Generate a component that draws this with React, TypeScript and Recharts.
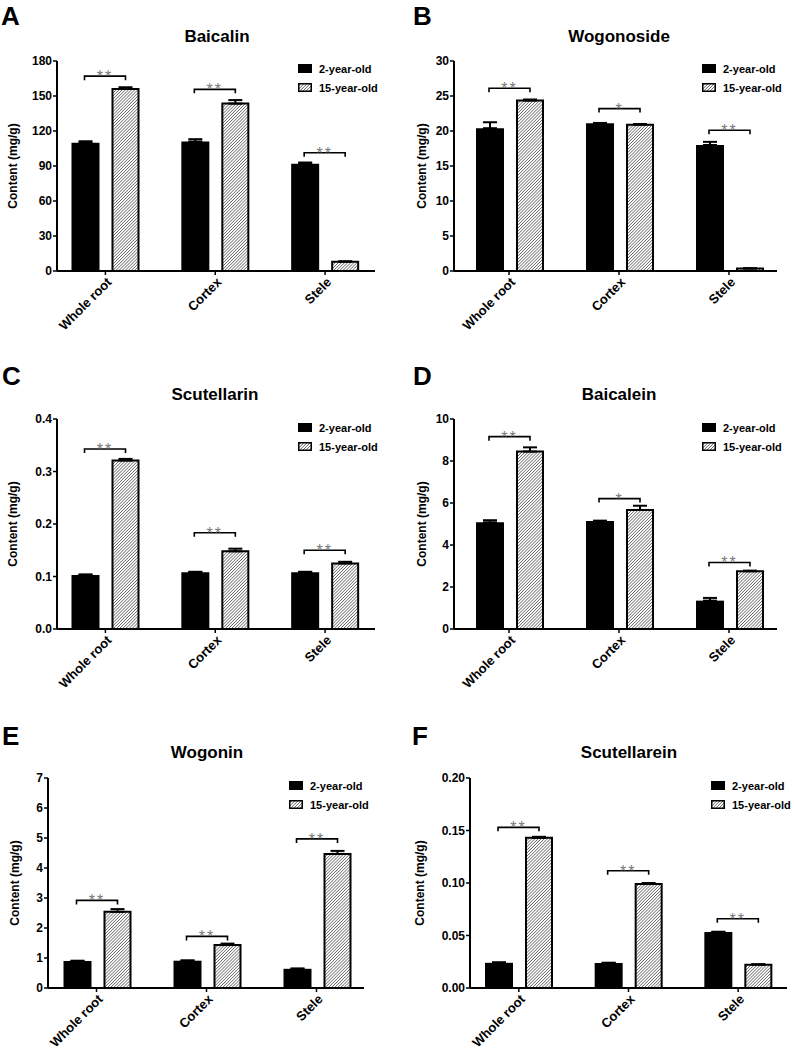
import React from 'react';
import { BarChart, Bar, XAxis, YAxis, ErrorBar, LabelList, Legend } from 'recharts';

// --- shared labels ---
const CATEGORIES = ['Whole root', 'Cortex', 'Stele'];
const SERIES_NAMES = ['2-year-old', '15-year-old'];

// --- A: Baicalin ---
const BAICALIN_2Y = [110, 111, 92];
const BAICALIN_2Y_SD = [1.2, 2, 1];
const BAICALIN_15Y = [156, 143.5, 8];
const BAICALIN_15Y_SD = [1.5, 3, 0.3];
const BAICALIN_BRACKET = [167, 155.7, 101.4];
const BAICALIN_SIG = ['**', '**', '**'];
const BAICALIN_TICKS = [0, 30, 60, 90, 120, 150, 180];

// --- B: Wogonoside ---
const WOGONOSIDE_2Y = [20.4, 21.1, 18];
const WOGONOSIDE_2Y_SD = [0.85, 0.05, 0.45];
const WOGONOSIDE_15Y = [24.35, 20.9, 0.35];
const WOGONOSIDE_15Y_SD = [0.15, 0.1, 0.05];
const WOGONOSIDE_BRACKET = [26.1, 23.2, 20.1];
const WOGONOSIDE_SIG = ['**', '*', '**'];
const WOGONOSIDE_TICKS = [0, 5, 10, 15, 20, 25, 30];

// --- C: Scutellarin ---
const SCUTELLARIN_2Y = [0.103, 0.108, 0.108];
const SCUTELLARIN_2Y_SD = [0.001, 0.001, 0.001];
const SCUTELLARIN_15Y = [0.321, 0.148, 0.125];
const SCUTELLARIN_15Y_SD = [0.003, 0.005, 0.003];
const SCUTELLARIN_BRACKET = [0.343, 0.1834, 0.15];
const SCUTELLARIN_SIG = ['**', '**', '**'];
const SCUTELLARIN_TICKS = [0, 0.1, 0.2, 0.3, 0.4];

// --- D: Baicalein ---
const BAICALEIN_2Y = [5.08, 5.14, 1.35];
const BAICALEIN_2Y_SD = [0.1, 0.02, 0.13];
const BAICALEIN_15Y = [8.45, 5.67, 2.75];
const BAICALEIN_15Y_SD = [0.2, 0.2, 0.03];
const BAICALEIN_BRACKET = [9.16, 6.21, 3.17];
const BAICALEIN_SIG = ['**', '*', '**'];
const BAICALEIN_TICKS = [0, 2, 4, 6, 8, 10];

// --- E: Wogonin ---
const WOGONIN_2Y = [0.9, 0.91, 0.64];
const WOGONIN_2Y_SD = [0.01, 0.01, 0.01];
const WOGONIN_15Y = [2.54, 1.43, 4.47];
const WOGONIN_15Y_SD = [0.09, 0.05, 0.1];
const WOGONIN_BRACKET = [2.92, 1.72, 4.97];
const WOGONIN_SIG = ['**', '**', '**'];
const WOGONIN_TICKS = [0, 1, 2, 3, 4, 5, 6, 7];

// --- F: Scutellarein ---
const SCUTELLAREIN_2Y = [0.024, 0.0238, 0.0533];
const SCUTELLAREIN_2Y_SD = [0.0005, 0.0003, 0.0003];
const SCUTELLAREIN_15Y = [0.143, 0.099, 0.0222];
const SCUTELLAREIN_15Y_SD = [0.001, 0.001, 0.0005];
const SCUTELLAREIN_BRACKET = [0.153, 0.1117, 0.066];
const SCUTELLAREIN_SIG = ['**', '**', '**'];
const SCUTELLAREIN_TICKS = [0, 0.05, 0.1, 0.15, 0.2];

// --- layout ---
const FONT = '"Liberation Sans", Arial, Helvetica, sans-serif';
const PANEL_W = 397;
const PANEL_H = 360;
const X_AXIS_H = 30;
const BAR_SIZE = 28;
const BAR_GAP = 13;

const CategoryTick = ({ x, y, payload }: any) => {
  const ax = x + 7;
  const ay = y + 6;
  return (
    <text
      x={ax}
      y={ay}
      transform={`rotate(-45, ${ax}, ${ay})`}
      textAnchor="end"
      fontSize={13}
      fontWeight="bold"
      fill="#000"
      fontFamily={FONT}
    >
      {payload.value}
    </text>
  );
};

const LegendBox = () => (
  <div style={{ fontFamily: FONT, fontSize: 11, fontWeight: 'bold', color: '#000', whiteSpace: 'nowrap' }}>
    {SERIES_NAMES.map((name, i) => (
      <div key={name} style={{ display: 'flex', alignItems: 'center', height: 19 }}>
        <svg width={14} height={9} style={{ marginRight: 7, flex: 'none' }}>
          {i === 0 ? (
            <rect width={14} height={9} fill="#000" />
          ) : (
            <rect x={0.75} y={0.75} width={12.5} height={7.5} fill="url(#hatch)" stroke="#000" strokeWidth={1.5} />
          )}
        </svg>
        <span>{name}</span>
      </div>
    ))}
  </div>
);

interface PanelProps {
  letter: string;
  title: string;
  young: number[];
  youngSd: number[];
  old: number[];
  oldSd: number[];
  bracket: number[];
  sig: string[];
  ticks: number[];
  decimals: number;
  left: number;
  top: number;
  axisX: number;
  plotTop: number;
  plotBottom: number;
  axisEnd: number;
  padL: number;
  padR: number;
  labelX: number;
  legendX: number;
  legendY: number;
  titleX: number;
  titleY: number;
  letterX: number;
  letterY: number;
}

const Panel = (p: PanelProps) => {
  const data = CATEGORIES.map((category, i) => ({
    category,
    young: p.young[i],
    youngErr: [0, p.youngSd[i]],
    old: p.old[i],
    oldErr: [0, p.oldSd[i]],
    bracket: p.bracket[i],
  }));

  // significance bracket drawn from the 15-year-old bar geometry
  const renderBracket = (props: any) => {
    const vb = props.viewBox ?? props;
    const { x, y, width, height } = vb;
    const index = props.index;
    const value = p.old[index];
    const pxPer = height / value;
    const zeroY = y + height;
    const by = zeroY - p.bracket[index] * pxPer;
    const right = x + width / 2;
    const leftX = right - (BAR_SIZE + BAR_GAP);
    return (
      <g key={`br-${index}`}>
        <path
          d={`M${leftX},${by + 4} V${by} H${right} V${by + 4}`}
          stroke="#000"
          strokeWidth={1.6}
          fill="none"
        />
        <text
          x={(leftX + right) / 2}
          y={by + 6}
          textAnchor="middle"
          fontSize={16}
          fill="#7a7a7a"
          letterSpacing={2}
          fontFamily={FONT}
        >
          {p.sig[index]}
        </text>
      </g>
    );
  };

  const marginTop = p.plotTop - p.top;
  const marginBottom = PANEL_H - (p.plotBottom - p.top) - X_AXIS_H;
  const marginRight = p.left + PANEL_W - p.axisEnd;
  const yAxisWidth = p.axisX - p.left;

  return (
    <>
      <div style={{ position: 'absolute', left: p.left, top: p.top }}>
        <BarChart
          width={PANEL_W}
          height={PANEL_H}
          data={data}
          barGap={BAR_GAP}
          margin={{ top: marginTop, right: marginRight, bottom: marginBottom, left: 0 }}
          style={{ overflow: 'visible' }}
        >
          <XAxis
            dataKey="category"
            height={X_AXIS_H}
            interval={0}
            padding={{ left: p.padL, right: p.padR }}
            axisLine={{ stroke: '#000', strokeWidth: 2 }}
            tickLine={{ stroke: '#000', strokeWidth: 1.5 }}
            tickSize={4}
            tick={<CategoryTick />}
          />
          <YAxis
            type="number"
            width={yAxisWidth}
            domain={[0, p.ticks[p.ticks.length - 1]]}
            ticks={p.ticks}
            interval={0}
            tickFormatter={(v: number) => v.toFixed(p.decimals)}
            axisLine={{ stroke: '#000', strokeWidth: 2 }}
            tickLine={{ stroke: '#000', strokeWidth: 1.5 }}
            tickSize={4}
            tickMargin={1}
            tick={{ fontSize: 12, fontWeight: 'bold', fill: '#000', fontFamily: FONT }}
            label={{
              value: 'Content (mg/g)',
              angle: -90,
              position: 'insideLeft',
              offset: p.labelX - p.left,
              fontSize: 12,
              fontWeight: 'bold',
              fill: '#000',
              style: { textAnchor: 'middle', fontFamily: FONT },
            }}
          />
          <Legend
            layout="horizontal"
            align="center"
            verticalAlign="middle"
            wrapperStyle={{ left: p.legendX - p.left, top: p.legendY - p.top - 5, width: 80, height: 40 }}
            content={() => <LegendBox />}
          />
          <Bar dataKey="young" name={SERIES_NAMES[0]} fill="#000" barSize={BAR_SIZE} isAnimationActive={false}>
            <ErrorBar dataKey="youngErr" direction="y" width={7} stroke="#000" strokeWidth={2} />
          </Bar>
          <Bar
            dataKey="old"
            name={SERIES_NAMES[1]}
            fill="url(#hatch)"
            stroke="#000"
            strokeWidth={2}
            barSize={BAR_SIZE - 2}
            isAnimationActive={false}
          >
            <ErrorBar dataKey="oldErr" direction="y" width={7} stroke="#000" strokeWidth={2} />
            <LabelList dataKey="bracket" content={renderBracket} />
          </Bar>
        </BarChart>
      </div>
      <svg
        width={PANEL_W}
        height={60}
        style={{ position: 'absolute', left: p.left, top: p.titleY - 45, overflow: 'visible', pointerEvents: 'none' }}
      >
        <text x={p.letterX - p.left} y={p.letterY - (p.titleY - 45)} fontSize={26} fontWeight="bold" fontFamily={FONT} fill="#000">
          {p.letter}
        </text>
        <text x={p.titleX - p.left} y={45} textAnchor="middle" fontSize={17} fontWeight="bold" fontFamily={FONT} fill="#000">
          {p.title}
        </text>
      </svg>
    </>
  );
};

export default function App() {
  return (
    <div
      style={{
        position: 'absolute',
        left: 0,
        top: 0,
        width: 794,
        height: 1050,
        background: '#fff',
        fontFamily: FONT,
        overflow: 'hidden',
      }}
    >
      <svg width={0} height={0} style={{ position: 'absolute' }}>
        <defs>
          <pattern id="hatch" patternUnits="userSpaceOnUse" width={2.2} height={2.2} patternTransform="rotate(45)">
            <rect width={2.2} height={2.2} fill="#fff" />
            <line x1={0} y1={0} x2={0} y2={2.2} stroke="#333" strokeWidth={1.1} />
          </pattern>
        </defs>
      </svg>

      <Panel
        letter="A" title="Baicalin"
        young={BAICALIN_2Y} youngSd={BAICALIN_2Y_SD} old={BAICALIN_15Y} oldSd={BAICALIN_15Y_SD}
        bracket={BAICALIN_BRACKET} sig={BAICALIN_SIG} ticks={BAICALIN_TICKS} decimals={0}
        left={0} top={0} axisX={57} plotTop={61} plotBottom={271} axisEnd={375} padL={-6.5} padR={-5}
        labelX={13} legendX={298} legendY={64} titleX={217} titleY={42} letterX={1} letterY={25}
      />
      <Panel
        letter="B" title="Wogonoside"
        young={WOGONOSIDE_2Y} youngSd={WOGONOSIDE_2Y_SD} old={WOGONOSIDE_15Y} oldSd={WOGONOSIDE_15Y_SD}
        bracket={WOGONOSIDE_BRACKET} sig={WOGONOSIDE_SIG} ticks={WOGONOSIDE_TICKS} decimals={0}
        left={397} top={0} axisX={454} plotTop={61} plotBottom={271} axisEnd={777} padL={0} padR={-7}
        labelX={422} legendX={702} legendY={64} titleX={619} titleY={42} letterX={413} letterY={25}
      />
      <Panel
        letter="C" title="Scutellarin"
        young={SCUTELLARIN_2Y} youngSd={SCUTELLARIN_2Y_SD} old={SCUTELLARIN_15Y} oldSd={SCUTELLARIN_15Y_SD}
        bracket={SCUTELLARIN_BRACKET} sig={SCUTELLARIN_SIG} ticks={SCUTELLARIN_TICKS} decimals={1}
        left={0} top={340} axisX={57} plotTop={419} plotBottom={629} axisEnd={375} padL={-6.5} padR={-5}
        labelX={13} legendX={298} legendY={423} titleX={215} titleY={400} letterX={2} letterY={385}
      />
      <Panel
        letter="D" title="Baicalein"
        young={BAICALEIN_2Y} youngSd={BAICALEIN_2Y_SD} old={BAICALEIN_15Y} oldSd={BAICALEIN_15Y_SD}
        bracket={BAICALEIN_BRACKET} sig={BAICALEIN_SIG} ticks={BAICALEIN_TICKS} decimals={0}
        left={397} top={340} axisX={454} plotTop={419} plotBottom={629} axisEnd={777} padL={0} padR={-7}
        labelX={422} legendX={702} legendY={423} titleX={619} titleY={400} letterX={413} letterY={385}
      />
      <Panel
        letter="E" title="Wogonin"
        young={WOGONIN_2Y} youngSd={WOGONIN_2Y_SD} old={WOGONIN_15Y} oldSd={WOGONIN_15Y_SD}
        bracket={WOGONIN_BRACKET} sig={WOGONIN_SIG} ticks={WOGONIN_TICKS} decimals={0}
        left={0} top={690} axisX={48} plotTop={778} plotBottom={988} axisEnd={364} padL={-6.5} padR={-7.5}
        labelX={15} legendX={289} legendY={781} titleX={207} titleY={758} letterX={2} letterY={745}
      />
      <Panel
        letter="F" title="Scutellarein"
        young={SCUTELLAREIN_2Y} youngSd={SCUTELLAREIN_2Y_SD} old={SCUTELLAREIN_15Y} oldSd={SCUTELLAREIN_15Y_SD}
        bracket={SCUTELLAREIN_BRACKET} sig={SCUTELLAREIN_SIG} ticks={SCUTELLAREIN_TICKS} decimals={2}
        left={397} top={690} axisX={470} plotTop={778} plotBottom={988} axisEnd={787} padL={-6} padR={-6}
        labelX={420} legendX={711} legendY={781} titleX={629} titleY={758} letterX={412} letterY={745}
      />
    </div>
  );
}
